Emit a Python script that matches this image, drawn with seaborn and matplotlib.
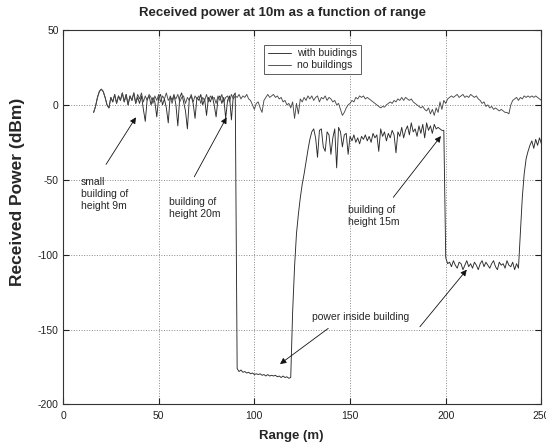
import numpy as np
import pandas as pd
import matplotlib
matplotlib.use("Agg")
import matplotlib.pyplot as plt
import seaborn as sns

# ========== Data ==========
# range in metres, one sample per metre from 16 m to 250 m
range_m = np.arange(16, 251)

# received power without buildings (dBm)
no_buildings = [
    -5, -1, 5, 9, 10.5, 9, 5, 0, -2, 5,          # 16-25
    2, 7, 1, 6, 3, 8, 2, 7, 0, 6,                # 26-35
    3, 8, 1, 7, 4, 8, 2, 6, 3, 7,                # 36-45
    5, 1, 6, 3, 7, 2, 6, 4, 8, 3,                # 46-55
    5, 1, 6, 4, 7, 2, 5, 6, 1, 5,                # 56-65
    3, 7, 2, 6, 4, 6, 1, 5, 3, 7,                # 66-75
    2, 6, 4, 5, 1, 6, 3, 7, 2, 5,                # 76-85
    6, 2, 7, 4, 6, 5, 7, 4, 6, 5,                # 86-95
    7, 4, 3, 0, -3, 1, 2, -2, -5, 3,             # 96-105
    5, 7, 5, 6, 7, 5, 6, 4, 5, 2,                # 106-115
    3, 0, 1, -2, 2, -9, 1, -6, 4, 2,             # 116-125
    5, 3, 6, 4, 6, 3, 5, 6, 2, 5,                # 126-135
    4, 6, 3, 5, 4, 2, 3, 0, 1, -3,               # 136-145
    -7, -5, -2, 0, 1, 3, 2, 5, 4, 6,             # 146-155
    5, 6, 4, 5, 4, 3, 2, 1, 0, -1,               # 156-165
    -2, -1, -1.5, 0, 1, 2, 1, 3, 2, 4,           # 166-175
    3, 5, 3, 5, 4, 3, 4, 2, 1, 0,                # 176-185
    -1, -2, -1, -3, -4, -2, -6, -3, -7, -2,      # 186-195
    -5, 2, -3, 3, 1, 4, 5, 6, 5, 6,              # 196-205
    7, 5, 6, 7, 5, 6, 5, 7, 6, 5,                # 206-215
    6, 4, 3, 1, 2, -1, 0, -2, -1, -3,            # 216-225
    -2, -3, -4, -3, -4, -5, -5, -6, 0, 3,        # 226-235
    4, 5, 3, 5, 4, 6, 5, 6, 5, 6,                # 236-245
    5, 6, 5, 4, 3,                               # 246-250
]

# received power with buildings (dBm)
with_buildings = [
    -5, -1, 5, 9, 10.5, 9, 5, 0, -2, 5,                              # 16-25
    2, 7, 1, 6, 3, 8, 2, 7, 0, 6,                                    # 26-35
    3, 8, 1, 5, 1, 6, -3, -11, 4, 6,                                 # 36-45
    0, 5, 2, -8, 5, 7, 0, 4, -2, -12,                                # 46-55
    6, 3, 7, 0, -14, 5, 8, 2, -4, -16,                               # 56-65
    4, 6, 1, -9, 5, 3, 7, 0, 4, -7,                                  # 66-75
    5, 2, 6, 0, -8, 4, 6, 1, 5, -9,                                  # 76-85
    3, 6, -10, 6, 8, -176, -178, -177, -178.5, -178,                 # 86-95
    -179, -178.5, -179.5, -179, -180, -179.5, -180, -179.5, -180.5, -180,  # 96-105
    -181, -180, -181, -180.5, -181, -180.5, -181.5, -181, -182, -181,      # 106-115
    -182, -181.5, -182.5, -182, -138, -108, -86, -73, -62, -53,     # 116-125
    -46, -38, -30, -23, -18, -16, -22, -35, -17, -16,               # 126-135
    -28, -31, -18, -20, -33, -22, -16, -42, -15, -18,               # 136-145
    -28, -20, -19, -33, -21, -24, -20, -25, -22, -26,               # 146-155
    -21, -23, -20, -24, -21, -25, -19, -22, -20, -31,               # 156-165
    -16, -21, -18, -24, -19, -22, -17, -20, -32, -18,               # 166-175
    -21, -15, -22, -17, -14, -20, -12, -18, -16, -21,               # 176-185
    -14, -19, -13, -22, -12, -17, -14, -19, -13, -16,               # 186-195
    -15, -16, -17, -17, -102, -106, -105, -108, -104, -107,         # 196-205
    -109, -105, -106, -110, -107, -104, -108, -106, -109, -105,     # 206-215
    -107, -110, -106, -104, -108, -105, -107, -109, -106, -104,     # 216-225
    -108, -110, -105, -107, -106, -109, -104, -107, -108, -105,     # 226-235
    -110, -106, -109, -85, -62, -46, -36, -31, -27, -24,            # 236-245
    -29, -23, -27, -22, -26,                                         # 246-250
]

x_ticks = [0, 50, 100, 150, 200, 250]
y_ticks = [-200, -150, -100, -50, 0, 50]

df = pd.DataFrame({"range": range_m,
                   "with": with_buildings,
                   "none": no_buildings})

# ========== Style ==========
sns.set_style("ticks")
plt.rcParams["font.family"] = ["Liberation Sans", "DejaVu Sans"]
plt.rcParams["axes.unicode_minus"] = False

fig = plt.figure(figsize=(5.46, 4.44), dpi=100)
ax = fig.add_axes([0.1154, 0.089, 0.8762, 0.8434])

sns.lineplot(data=df, x="range", y="with", ax=ax, color="#2a2a2a",
             lw=0.65, label="with buidings")
sns.lineplot(data=df, x="range", y="none", ax=ax, color="#4a4a4a",
             lw=0.65, label="no buildings")

ax.set_xlim(0, 250)
ax.set_ylim(-200, 50)
ax.set_xticks(x_ticks)
ax.set_yticks(y_ticks)
ax.grid(True, linestyle=":", color="#8a8a8a", lw=0.7)
ax.tick_params(direction="in", top=True, right=True, length=4,
               labelsize=7.5, colors="#222222")
ax.tick_params(axis="x", pad=5)
ax.tick_params(axis="y", pad=3)
for sp in ax.spines.values():
    sp.set_color("#333333")
    sp.set_linewidth(0.8)

ax.set_title("Received power at 10m as a function of range",
             fontsize=9.5, fontweight="bold", pad=10, x=0.458)
ax.set_xlabel("Range (m)", fontsize=9.5, fontweight="bold", labelpad=6)
ax.xaxis.label.set_x(0.477)
ax.set_ylabel("Received Power (dBm)", fontsize=12.5, fontweight="bold")
ax.yaxis.set_label_coords(-0.079, 0.567)

leg = ax.legend(loc="upper left", bbox_to_anchor=(0.41, 0.975), fontsize=7.5,
                frameon=True, fancybox=False, handlelength=2.2,
                handletextpad=0.6, borderpad=0.35, labelspacing=0.2)
leg.get_frame().set_edgecolor("#333333")
leg.get_frame().set_linewidth(0.7)

# ========== Annotations ==========
arrow = dict(arrowstyle="-|>", color="#111111", lw=0.6, mutation_scale=9,
             shrinkA=0, shrinkB=0)
txt = dict(fontsize=7.5, ha="left", va="top", linespacing=1.25)

ax.text(9.4, -48, "small\nbuilding of\nheight 9m", **txt)
ax.annotate("", xy=(38.1, -8.3), xytext=(22.5, -39.7), arrowprops=arrow)

ax.text(55.4, -61.5, "building of\nheight 20m", **txt)
ax.annotate("", xy=(85.5, -8.3), xytext=(68.6, -48), arrowprops=arrow)

ax.text(148.7, -67, "building of\nheight 15m", **txt)
ax.annotate("", xy=(197.5, -20.8), xytext=(172.6, -61.7), arrowprops=arrow)

ax.text(130, -141.7, "power inside building", fontsize=7.5, ha="left",
        va="center")
ax.annotate("", xy=(113.4, -173), xytext=(138.6, -149.2), arrowprops=arrow)
ax.annotate("", xy=(211, -110), xytext=(186.5, -148.1), arrowprops=arrow)

fig.savefig("out.png", dpi=100)
plt.close(fig)
